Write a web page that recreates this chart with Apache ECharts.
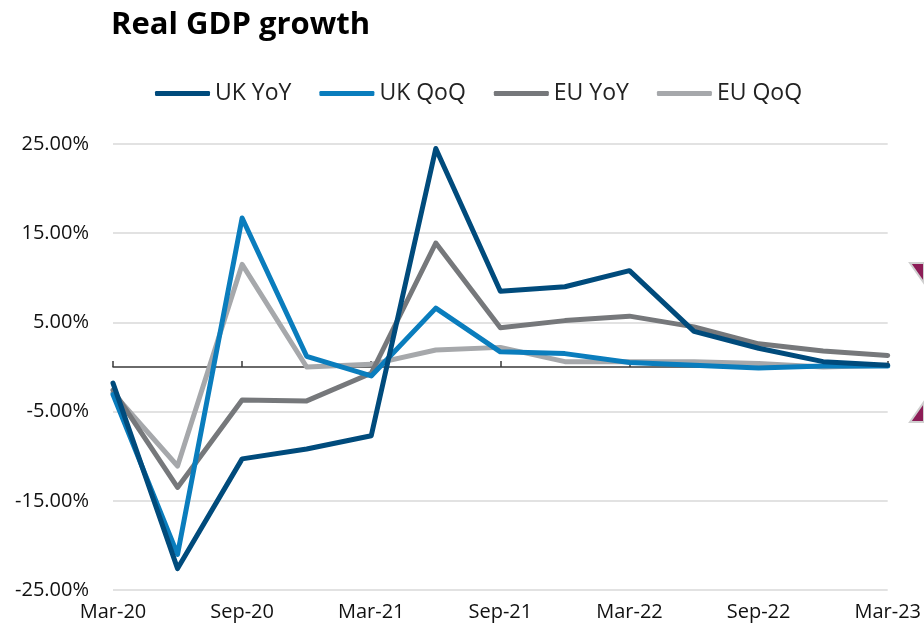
<!DOCTYPE html>
<html>
<head>
<meta charset="utf-8">
<script src="https://cdn.jsdelivr.net/npm/echarts@6/dist/echarts.min.js"></script>
<style>
html,body{margin:0;padding:0;background:#fff;}
#chart{width:924px;height:633px;}
</style>
</head>
<body>
<div id="chart"></div>
<script>
const categories = ['Mar-20','Jun-20','Sep-20','Dec-20','Mar-21','Jun-21','Sep-21','Dec-21','Mar-22','Jun-22','Sep-22','Dec-22','Mar-23'];
const ukYoY = [-1.8, -22.6, -10.3, -9.2, -7.7, 24.5, 8.5, 9.0, 10.8, 4.0, 2.1, 0.6, 0.2];
const ukQoQ = [-3.1, -21.0, 16.7, 1.2, -1.0, 6.6, 1.7, 1.5, 0.5, 0.2, -0.1, 0.1, 0.1];
const euYoY = [-2.6, -13.5, -3.7, -3.8, -0.7, 13.9, 4.4, 5.2, 5.7, 4.5, 2.6, 1.8, 1.3];
const euQoQ = [-2.9, -11.1, 11.5, 0.0, 0.3, 1.9, 2.2, 0.6, 0.6, 0.6, 0.4, 0.0, 0.2];
const seriesNames = ['UK YoY','UK QoQ','EU YoY','EU QoQ'];
const colors = ['#004b7c','#0a7dbd','#76787b','#a6a8ab'];

const font = '"Open Sans", "Noto Sans", sans-serif';
const chart = echarts.init(document.getElementById('chart'), null, {renderer:'canvas'});
const mk = (name, data, color) => ({
  name, type:'line', data, xAxisIndex:0, yAxisIndex:0,
  symbol:'none', smooth:false,
  lineStyle:{color, width:5, join:'round', cap:'round'},
  itemStyle:{color}
});
chart.setOption({
  animation:false,
  backgroundColor:'#ffffff',
  color: colors,
  title:{
    text:'Real GDP growth', left:106, top:5,
    textStyle:{fontFamily:font, fontWeight:'bold', fontSize:31, color:'#000'}
  },
  legend:{
    top:77, left:150, itemGap:28, itemWidth:55, itemHeight:5,
    icon:'roundRect',
    textStyle:{fontFamily:font, fontSize:23, color:'#222'},
    data: seriesNames.map((n,i)=>({name:n, itemStyle:{color:colors[i]}}))
  },
  grid:{left:113, right:36, top:144, bottom:43, containLabel:false},
  xAxis:[{
    type:'category', data:categories, boundaryGap:false, position:'bottom',
    axisLine:{show:false, onZero:false}, axisTick:{show:false},
    axisLabel:{interval:1, fontFamily:font, fontSize:20, color:'#111', margin:12}
  },{
    type:'category', data:categories, boundaryGap:false, position:'bottom',
    axisLine:{show:true, onZero:true, lineStyle:{color:'#3a3a3a', width:1.5}},
    axisTick:{show:true, inside:true, interval:1, length:6, lineStyle:{color:'#3a3a3a', width:1.5}},
    axisLabel:{show:false}
  }],
  yAxis:{
    type:'value', min:-25, max:25, interval:10,
    axisLine:{show:false}, axisTick:{show:false},
    splitLine:{lineStyle:{color:'#d9d9d9', width:1.5}},
    axisLabel:{fontFamily:font, fontSize:20, color:'#111', margin:24,
      formatter:v=>v.toFixed(2)+'%'}
  },
  series:[
    mk(seriesNames[3], euQoQ, colors[3]),
    mk(seriesNames[2], euYoY, colors[2]),
    mk(seriesNames[1], ukQoQ, colors[1]),
    mk(seriesNames[0], ukYoY, colors[0])
  ],
  graphic:[
    {type:'polygon', shape:{points:[[910,263],[924,263],[924,283]]}, style:{fill:'#8c1c56', stroke:'#cfcfcf', lineWidth:2}, silent:true},
    {type:'polygon', shape:{points:[[910,422],[924,422],[924,402]]}, style:{fill:'#8c1c56', stroke:'#cfcfcf', lineWidth:2}, silent:true}
  ]
});
</script>
</body>
</html>
